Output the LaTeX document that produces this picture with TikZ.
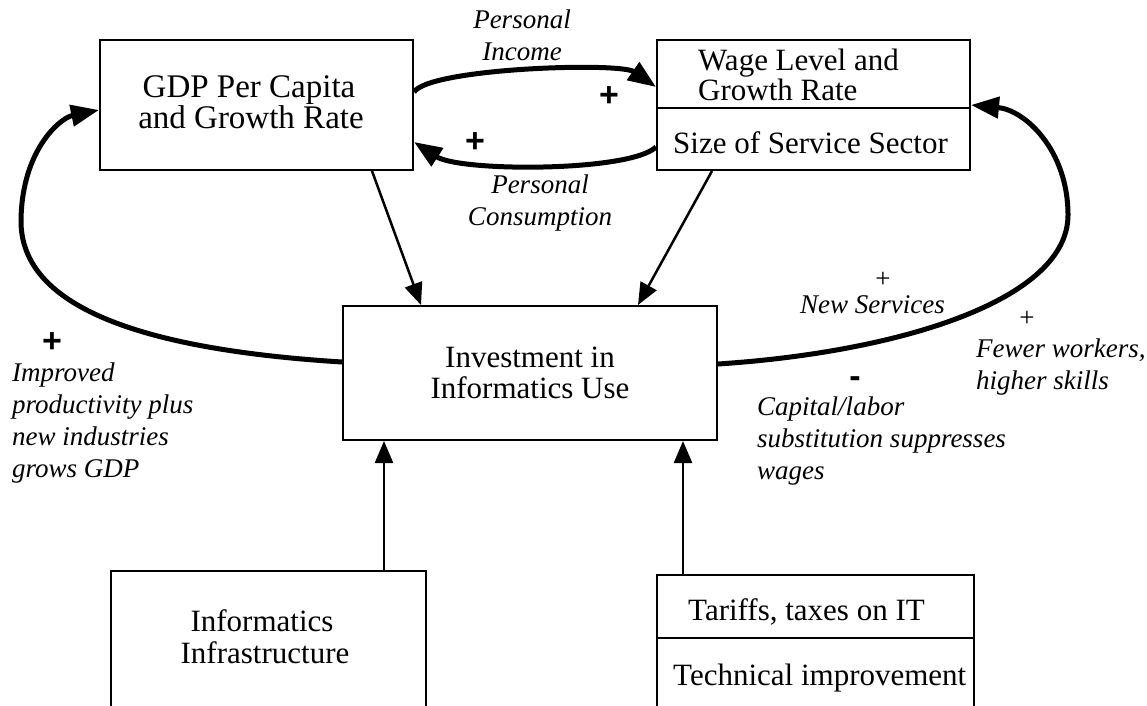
\documentclass[tikz,border=0pt]{standalone}
\usepackage{fontspec}
\setmainfont{Liberation Serif}
\newfontfamily\signfont{Liberation Sans}
\usetikzlibrary{arrows.meta}

\tikzset{
  box/.style={draw, line width=2pt, inner sep=0pt},
  txt/.style={font=\fontsize{31}{31}\selectfont, inner sep=0pt},
  boxtxt/.style={box, align=center, font=\fontsize{31}{31}\selectfont},
  lab/.style={font=\fontsize{27}{32}\selectfont\itshape, inner sep=0pt},
  bsign/.style={font=\signfont\bfseries\fontsize{34}{34}\selectfont, inner sep=0pt},
  tsign/.style={font=\fontsize{27}{27}\selectfont, inner sep=0pt},
  flow/.style={line width=2.5pt, -{Triangle[length=22pt,width=18pt]}},
  loopline/.style={line width=5pt, -{Triangle[length=28pt,width=21pt]}},
}

\begin{document}
\begin{tikzpicture}[x=1pt,y=-1pt]
\useasboundingbox (0,0) rectangle (1147,705);
\clip (0,0) rectangle (1147,705);

% boxes
\node[box, minimum width=313pt, minimum height=130pt] (gdp) at (256.5,105) {};
\node[box, minimum width=313pt, minimum height=130pt] (wage) at (813.5,105) {};
\node[boxtxt, minimum width=374pt, minimum height=134pt] (inv) at (530,373)
  {Investment in\\Informatics Use};
\node[box, minimum width=315pt, minimum height=149pt] (infra) at (268.5,645.5) {};
\node[box, minimum width=317pt, minimum height=145pt] (tariff) at (815.5,647.5) {};

% compartment lines
\draw[line width=2pt] ([yshift=-3pt]wage.west) -- ([yshift=-3pt]wage.east);
\draw[line width=2pt] ([yshift=9.5pt]tariff.west) -- ([yshift=9.5pt]tariff.east);

% box texts
\node[txt, font=\fontsize{33}{31}\selectfont, anchor=base] (g1) at (249,97) {GDP Per Capita};
\node[txt, font=\fontsize{33}{31}\selectfont, anchor=base] (g2) at (251,128) {and Growth Rate};
\node[txt, anchor=base west] (wl1) at (698,70) {Wage Level and};
\node[txt, anchor=base west] (wl2) at (698,100) {Growth Rate};
\node[txt, anchor=base west] (ss) at (673,153) {Size of Service Sector};
\node[txt, anchor=base west] (tt) at (688,620) {Tariffs, taxes on IT};
\node[txt, anchor=base west] (ti) at (673,685) {Technical improvement};
\node[txt, anchor=base] (if1) at (262,631) {Informatics};
\node[txt, anchor=base] (if2) at (265,663) {Infrastructure};

% straight influences
\draw[flow] ([xshift=115.5pt]gdp.south) -- ([xshift=-109pt]inv.north);
\draw[flow] ([xshift=-101.5pt]wage.south) -- ([xshift=108pt]inv.north);
\draw[flow] ([xshift=115.5pt]infra.north) -- ([xshift=-146pt]inv.south);
\draw[flow] ([xshift=-132.5pt]tariff.north) -- ([xshift=153pt]inv.south);

% feedback loops
\draw[loopline] ([yshift=13pt]gdp.east) .. controls (430,68) and (620,62) .. ([yshift=18pt]wage.west);
\draw[loopline] ([yshift=-42pt]wage.west) .. controls (630,172) and (460,172) .. ([yshift=-37pt]gdp.east);
\draw[loopline] ([yshift=11pt]inv.west) .. controls (150,350) and (20,310) .. (21,220)
  .. controls (22,150) and (60,118) .. ([yshift=-5pt]gdp.west);
\draw[loopline] ([yshift=9pt]inv.east) .. controls (900,352) and (1068,300) .. (1068,215)
  .. controls (1068,150) and (1025,110) .. (wage.east);

% link labels
\node[lab, anchor=north, align=center] (pinc) at (522,10) {Personal\\Income};
\node[lab, anchor=north, align=center] (pcon) at (540,175) {Personal\\Consumption};
\node[lab, anchor=north west, align=left] (prod) at (12,363)
  {Improved\\productivity plus\\new industries\\grows GDP};
\node[lab, anchor=base west] (nsrv) at (800,313) {New Services};
\node[lab, anchor=north west, align=left] (fewr) at (976,339) {Fewer workers,\\higher skills};
\node[lab, anchor=north west, align=left] (capl) at (757,397)
  {Capital/labor\\substitution suppresses\\wages};

% polarity signs
\node[bsign] (s1) at (609,97) {+};
\node[bsign] (s2) at (475,143) {+};
\node[bsign] (s3) at (52,343) {+};
\node[tsign] (s4) at (883,280) {+};
\node[tsign] (s5) at (1027,319) {+};
\node[bsign] (s6) at (855,382) {-};
\end{tikzpicture}
\end{document}
